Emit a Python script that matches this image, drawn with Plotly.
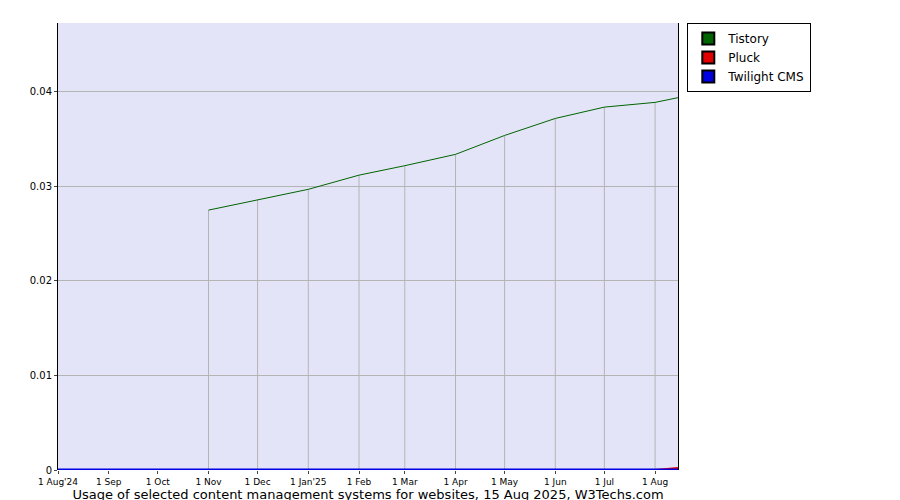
import plotly.graph_objs as go

dates = ["2024-11-01", "2024-12-01", "2025-01-01", "2025-02-01", "2025-03-01", "2025-04-01",
         "2025-05-01", "2025-06-01", "2025-07-01", "2025-08-01", "2025-08-15"]
tistory = [0.0275, 0.0286, 0.0297, 0.0312, 0.0322, 0.0334, 0.0354, 0.0372, 0.0384, 0.0389, 0.0394]
full_dates = ["2024-08-01", "2025-08-01", "2025-08-15"]
pluck = [0.0, 0.0, 0.0002]
twilight = [0.0, 0.0, 0.0]
tick_vals = ["2024-08-01", "2024-09-01", "2024-10-01", "2024-11-01", "2024-12-01", "2025-01-01",
             "2025-02-01", "2025-03-01", "2025-04-01", "2025-05-01", "2025-06-01", "2025-07-01", "2025-08-01"]
tick_text = ["1 Aug'24", "1 Sep", "1 Oct", "1 Nov", "1 Dec", "1 Jan'25", "1 Feb", "1 Mar",
             "1 Apr", "1 May", "1 Jun", "1 Jul", "1 Aug"]
names = ["Tistory", "Pluck", "Twilight CMS"]
colors = ["#006400", "#e00000", "#0000e0"]

# vertical drop lines under the data, like the original
dx, dy = [], []
for d, v in zip(dates[:-1], tistory[:-1]):
    dx += [d, d, None]
    dy += [0, v, None]

fig = go.Figure()
fig.add_trace(go.Scatter(x=dx, y=dy, mode="lines", line=dict(color="#b4b4b4", width=1),
                         showlegend=False, hoverinfo="skip"))
fig.add_trace(go.Scatter(x=dates, y=tistory, mode="lines", showlegend=False,
                         line=dict(color=colors[0], width=1)))
fig.add_trace(go.Scatter(x=full_dates, y=pluck, mode="lines", showlegend=False,
                         line=dict(color=colors[1], width=2)))
fig.add_trace(go.Scatter(x=full_dates, y=twilight, mode="lines", showlegend=False,
                         line=dict(color=colors[2], width=3)))
# legend entries with square swatches
for n, c in zip(names, colors):
    fig.add_trace(go.Scatter(x=[None], y=[None], mode="markers", name=n,
                             marker=dict(symbol="square", size=9, color=c,
                                         line=dict(color="black", width=1))))

fig.update_layout(
    width=900, height=500, paper_bgcolor="white", plot_bgcolor="#e4e4f8",
    margin=dict(l=50, r=230, t=15, b=38, pad=0),
    font=dict(family="DejaVu Sans", size=11, color="black"),
    legend=dict(x=1.015, y=1, xanchor="left", yanchor="top", bordercolor="black",
                borderwidth=1, tracegroupgap=0, font=dict(size=12), itemwidth=30,
                itemsizing="constant"),
    xaxis=dict(range=["2024-08-01", "2025-08-15"], tickvals=tick_vals, ticktext=tick_text,
               showgrid=False, tickfont=dict(size=9), ticks="outside", ticklen=3,
               showline=False, zeroline=False, automargin=False,
               title=dict(text="Usage of selected content management systems for websites, 15 Aug 2025, W3Techs.com",
                          font=dict(size=13), standoff=4)),
    yaxis=dict(range=[0, 0.0473], tickvals=[0, 0.01, 0.02, 0.03, 0.04],
               ticktext=["0", "0.01", "0.02", "0.03", "0.04"], gridcolor="#b4b4b4",
               showline=True, linecolor="black", mirror=True, zeroline=False,
               ticks="outside", ticklen=3, tickfont=dict(size=10), automargin=False),
)
fig.write_html("out.html")
